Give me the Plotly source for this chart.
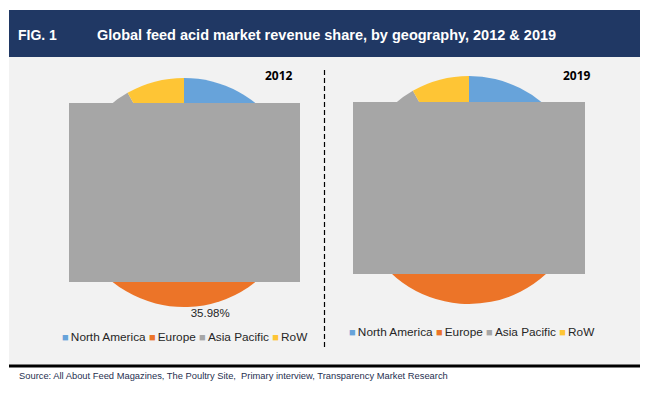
import plotly.graph_objects as go

# ---- data ----
regions = ["North America", "Europe", "Asia Pacific", "RoW"]
colors = ["#67a3da", "#ec7428", "#a6a6a6", "#fec535"]
share_2012 = [31.5, 35.98, 24.32, 8.2]
share_2019 = [29.5, 34.8, 27.5, 8.2]
years = ["2012", "2019"]
labelled_region_2012 = "Europe"

W, H = 650, 393
OFF = 8  # page body margin offset

def px(x):
    return (x - OFF) / W

def py(y):
    return 1 - (y - OFF) / H

fig = go.Figure()

text_2012 = [f"{v / sum(share_2012) * 100:.2f}%" if r == labelled_region_2012 else ""
             for r, v in zip(regions, share_2012)]
fig.add_trace(go.Pie(
    labels=regions, values=share_2012, text=text_2012, textinfo="text",
    textposition="outside", sort=False, direction="clockwise", rotation=0,
    marker=dict(colors=colors, line=dict(width=0)),
    domain=dict(x=[px(69.5), px(298.5)], y=[py(307), py(78)]),
    textfont=dict(family="Arial, Liberation Sans", size=11.5, color="#262626"),
    showlegend=False, hoverinfo="label+percent",
))
fig.add_trace(go.Pie(
    labels=regions, values=share_2019, textinfo="none",
    sort=False, direction="clockwise", rotation=0,
    marker=dict(colors=colors, line=dict(width=0)),
    domain=dict(x=[px(355), px(583)], y=[py(304), py(76)]),
    showlegend=False, hoverinfo="label+percent",
))

shapes = [
    dict(type="rect", xref="paper", yref="paper", x0=px(9), x1=px(640), y0=py(365), y1=py(57),
         fillcolor="#f2f2f2", line=dict(width=0), layer="below"),
    dict(type="rect", xref="paper", yref="paper", x0=px(9), x1=px(640), y0=py(57), y1=py(10),
         fillcolor="#203864", line=dict(width=0), layer="below"),
    dict(type="line", xref="paper", yref="paper", x0=px(9), x1=px(640), y0=py(366), y1=py(366),
         line=dict(color="black", width=3)),
    dict(type="line", xref="paper", yref="paper", x0=px(324.5), x1=px(324.5), y0=py(347), y1=py(67),
         line=dict(color="black", width=1.2, dash="5px,3px")),
    dict(type="rect", xref="paper", yref="paper", x0=px(69), x1=px(300), y0=py(282), y1=py(103),
         fillcolor="#a6a6a6", line=dict(width=0), layer="above"),
    dict(type="rect", xref="paper", yref="paper", x0=px(353), x1=px(585), y0=py(274), y1=py(102),
         fillcolor="#a6a6a6", line=dict(width=0), layer="above"),
]

def legend_html():
    parts = []
    for r, c in zip(regions, colors):
        parts.append(f"<span style='color:{c};font-size:11px'>■\u2009</span>{r}")
    return " ".join(parts)

font = "Arial, Liberation Sans, sans-serif"
annotations = [
    dict(text="<b>FIG. 1</b>", x=px(16), y=py(35), xanchor="left", yanchor="middle",
         font=dict(family=font, size=14, color="white")),
    dict(text="<b>Global feed acid market revenue share, by geography, 2012 &amp; 2019</b>",
         x=px(95), y=py(35), xanchor="left", yanchor="middle",
         font=dict(family=font, size=14.5, color="white")),
    dict(text=f"<b>{years[0]}</b>", x=px(279), y=py(75), xanchor="center", yanchor="middle",
         font=dict(family="Open Sans, Liberation Sans", size=12, color="black")),
    dict(text=f"<b>{years[1]}</b>", x=px(577), y=py(75), xanchor="center", yanchor="middle",
         font=dict(family="Open Sans, Liberation Sans", size=12, color="black")),
    dict(text=legend_html(), x=px(185), y=py(337), xanchor="center", yanchor="middle",
         font=dict(family=font, size=11.8, color="#262626")),
    dict(text=legend_html(), x=px(472), y=py(332), xanchor="center", yanchor="middle",
         font=dict(family=font, size=11.8, color="#262626")),
    dict(text="Source: All About Feed Magazines, The Poultry Site,  Primary interview, Transparency Market Research",
         x=px(17), y=py(376), xanchor="left", yanchor="middle",
         font=dict(family=font, size=9.35, color="#1f3050")),
]
for a in annotations:
    a.update(xref="paper", yref="paper", showarrow=False)

fig.update_layout(
    width=W, height=H, margin=dict(l=0, r=0, t=0, b=0),
    paper_bgcolor="white", plot_bgcolor="white",
    shapes=shapes, annotations=annotations, showlegend=False,
)

fig.write_html("out.html")
